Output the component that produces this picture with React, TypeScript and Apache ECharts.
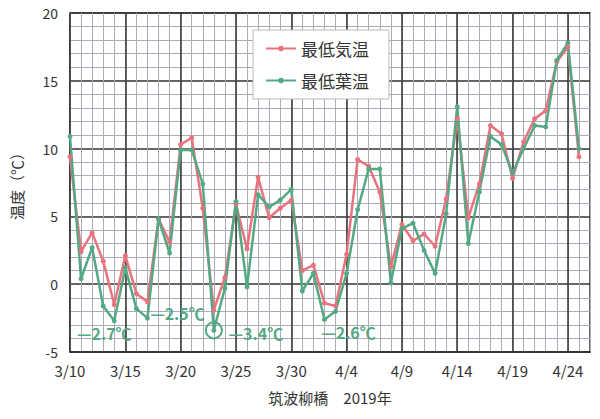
import React, { useEffect, useRef } from "react";
import * as echarts from "echarts";

const dates = [
  "3/10", "3/11", "3/12", "3/13", "3/14", "3/15", "3/16", "3/17", "3/18", "3/19",
  "3/20", "3/21", "3/22", "3/23", "3/24", "3/25", "3/26", "3/27", "3/28", "3/29",
  "3/30", "3/31", "4/1", "4/2", "4/3", "4/4", "4/5", "4/6", "4/7", "4/8",
  "4/9", "4/10", "4/11", "4/12", "4/13", "4/14", "4/15", "4/16", "4/17", "4/18",
  "4/19", "4/20", "4/21", "4/22", "4/23", "4/24", "4/25", "4/26",
];

const airMin = [
  9.4, 2.4, 3.8, 1.7, -1.5, 2.1, -0.7, -1.3, 4.8, 3.1,
  10.3, 10.8, 5.6, -1.9, 0.5, 5.9, 2.6, 7.9, 4.9, 5.6,
  6.2, 1.0, 1.4, -1.4, -1.6, 2.2, 9.2, 8.7, 6.8, 1.3,
  4.4, 3.2, 3.7, 2.8, 6.3, 12.2, 4.9, 7.4, 11.7, 11.1,
  7.8, 10.5, 12.2, 12.8, 16.4, 17.5, 9.4,
];

const leafMin = [
  10.9, 0.4, 2.7, -1.6, -2.7, 1.2, -1.8, -2.5, 4.8, 2.3,
  9.9, 9.9, 7.4, -3.4, -0.3, 6.1, -0.2, 6.6, 5.7, 6.2,
  7.0, -0.5, 0.8, -2.6, -2.0, 0.8, 5.5, 8.5, 8.5, 0.1,
  4.1, 4.5, 2.5, 0.8, 5.2, 13.1, 3.0, 6.8, 10.9, 10.3,
  8.2, 10.0, 11.7, 11.6, 16.5, 17.8, 10.0,
];

const seriesNames = ["最低気温", "最低葉温"];
const yTicks = { min: -5, max: 20, interval: 5 };

// annotated minima: [day index, value, text]
const notes: [number, number, string][] = [
  [4, -2.7, "—2.7℃"],
  [7, -2.5, "—2.5℃"],
  [13, -3.4, "—3.4℃"],
  [23, -2.6, "—2.6℃"],
];
const noteOffsets: [number, number][] = [
  [-10, 12],
  [30, -5],
  [42, 3],
  [24, 13],
];
const circledDay = 13;

const RED = "#e8737c";
const GREEN = "#55a884";
const FONT = "'Noto Sans CJK JP', 'Noto Sans', sans-serif";

export default function App() {
  const ref = useRef<HTMLDivElement>(null);
  useEffect(() => {
    if (!ref.current) return;
    const chart = echarts.init(ref.current, null, { renderer: "svg" });
    const option: any = {
      animation: false,
      backgroundColor: "#ffffff",
      textStyle: { fontFamily: FONT },
      grid: {
        left: 70,
        right: 10,
        top: 13,
        bottom: 67,
        show: true,
        borderColor: "#333",
        borderWidth: 1.5,
        backgroundColor: "transparent",
      },
      legend: {
        orient: "vertical",
        left: 253,
        top: 30,
        backgroundColor: "#ffffff",
        borderColor: "#bbbbbb",
        borderWidth: 1,
        padding: [10, 20, 10, 12],
        itemGap: 15,
        itemWidth: 30,
        itemHeight: 7,
        textStyle: { fontSize: 17, color: "#333", fontFamily: FONT },
        data: seriesNames,
      },
      xAxis: [
        {
          type: "category",
          data: dates,
          boundaryGap: false,
          position: "bottom",
          axisLine: { show: false },
          axisTick: { show: false },
          axisLabel: { show: false },
          splitLine: { show: true, interval: 0, lineStyle: { color: "#ababb5", width: 1 } },
        },
        {
          type: "category",
          data: dates,
          boundaryGap: false,
          position: "bottom",
          axisLine: { show: true, lineStyle: { color: "#333", width: 1.5 } },
          axisTick: { show: false },
          axisLabel: {
            interval: 4,
            margin: 11,
            fontSize: 15,
            color: "#333",
            fontFamily: FONT,
          },
          splitLine: { show: true, interval: 4, lineStyle: { color: "#333", width: 1.5 } },
          name: "筑波柳橋　2019年",
          nameLocation: "middle",
          nameGap: 38,
          nameTextStyle: { fontSize: 15, color: "#333", fontFamily: FONT },
        },
      ],
      yAxis: {
        type: "value",
        min: yTicks.min,
        max: yTicks.max,
        interval: yTicks.interval,
        axisLine: { show: false },
        axisTick: { show: false },
        axisLabel: { fontSize: 14, color: "#333", margin: 12, fontFamily: FONT },
        splitLine: { show: true, lineStyle: { color: "#333", width: 1.5 } },
        minorTick: { show: false, splitNumber: 5 },
        minorSplitLine: { show: true, lineStyle: { color: "#ababb5", width: 1 } },
        name: "温度（℃）",
        nameLocation: "middle",
        nameRotate: 90,
        nameGap: 46,
        nameTextStyle: { fontSize: 15, color: "#333", fontFamily: FONT },
      },
      series: [
        {
          name: seriesNames[0],
          type: "line",
          xAxisIndex: 1,
          data: airMin,
          symbol: "circle",
          symbolSize: 5,
          color: RED,
          lineStyle: { color: RED, width: 2.5 },
          itemStyle: { color: RED },
        },
        {
          name: seriesNames[1],
          type: "line",
          xAxisIndex: 1,
          data: leafMin,
          symbol: "circle",
          symbolSize: 5,
          color: GREEN,
          lineStyle: { color: GREEN, width: 2.5 },
          itemStyle: { color: GREEN },
          markPoint: {
            silent: true,
            data: [
              ...notes.map((n, i) => ({
                coord: [n[0], n[1]],
                symbol: "rect",
                symbolSize: [1, 1],
                itemStyle: { color: "rgba(0,0,0,0)" },
                label: {
                  show: true,
                  position: "inside",
                  offset: noteOffsets[i],
                  formatter: n[2],
                  fontSize: 16,
                  fontWeight: "bold",
                  color: GREEN,
                  fontFamily: FONT,
                },
              })),
              {
                coord: [circledDay, leafMin[circledDay]],
                symbol: "circle",
                symbolSize: 16,
                itemStyle: { color: "rgba(0,0,0,0)", borderColor: GREEN, borderWidth: 2 },
                label: { show: false },
              },
            ],
          },
        },
      ],
    };
    chart.setOption(option);
    return () => chart.dispose();
  }, []);
  return <div ref={ref} style={{ width: 600, height: 419, position: "absolute", left: 0, top: 0 }} />;
}
